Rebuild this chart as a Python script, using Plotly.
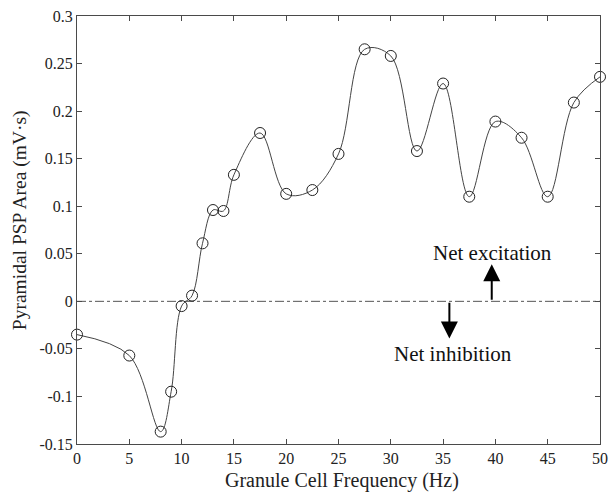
import plotly.graph_objects as go

freq_hz = [0, 5, 8, 9, 10, 11, 12, 13, 14, 15, 17.5, 20, 22.5, 25, 27.5, 30,
           32.5, 35, 37.5, 40, 42.5, 45, 47.5, 50]
psp_area = [-0.035, -0.057, -0.137, -0.095, -0.005, 0.006, 0.061, 0.096, 0.095,
            0.133, 0.177, 0.113, 0.117, 0.155, 0.265, 0.258, 0.158, 0.229,
            0.110, 0.189, 0.172, 0.110, 0.209, 0.236]

x_ticks = [0, 5, 10, 15, 20, 25, 30, 35, 40, 45, 50]
y_ticks = [-0.15, -0.1, -0.05, 0, 0.05, 0.1, 0.15, 0.2, 0.25, 0.3]
y_tick_text = ["-0.15", "-0.1", "-0.05", "0", "0.05", "0.1", "0.15", "0.2", "0.25", "0.3"]

FONT = "Liberation Serif, Times New Roman, serif"
AX = "#4a4a4a"

fig = go.Figure()
fig.add_trace(go.Scatter(
    x=freq_hz, y=psp_area, mode="lines+markers",
    line=dict(shape="spline", smoothing=1.0, color="#444444", width=1),
    marker=dict(symbol="circle-open", size=11, color="#222222", line=dict(width=1)),
    showlegend=False, cliponaxis=False,
))

fig.add_shape(type="line", xref="x", yref="y", x0=0, x1=50, y0=0, y1=0,
              line=dict(color="#555555", width=1, dash="dashdot"), layer="below")

# arrows
fig.add_annotation(x=39.65, y=0.039, ax=39.65, ay=0.0, xref="x", yref="y",
                   axref="x", ayref="y", text="", showarrow=True,
                   arrowhead=2, arrowsize=1.7, arrowwidth=2, arrowcolor="#000000")
fig.add_annotation(x=35.6, y=-0.039, ax=35.6, ay=0.0, xref="x", yref="y",
                   axref="x", ayref="y", text="", showarrow=True,
                   arrowhead=2, arrowsize=1.7, arrowwidth=2, arrowcolor="#000000")
fig.add_annotation(x=39.7, y=0.051, xref="x", yref="y", text="Net excitation",
                   showarrow=False, font=dict(family=FONT, size=21, color="#111111"))
fig.add_annotation(x=35.9, y=-0.055, xref="x", yref="y", text="Net inhibition",
                   showarrow=False, font=dict(family=FONT, size=21, color="#111111"))

# axis titles
fig.add_annotation(x=0.507, y=-0.086, xref="paper", yref="paper",
                   text="Granule Cell Frequency (Hz)", showarrow=False,
                   xanchor="center", yanchor="middle",
                   font=dict(family=FONT, size=20, color="#222222"))
fig.add_annotation(x=-0.109, y=0.523, xref="paper", yref="paper",
                   text="Pyramidal PSP Area (mV·s)", showarrow=False, textangle=-90,
                   xanchor="center", yanchor="middle",
                   font=dict(family=FONT, size=19.5, color="#222222"))

fig.update_layout(
    width=609, height=493,
    margin=dict(l=77, r=9, t=16, b=49),
    paper_bgcolor="white", plot_bgcolor="white",
    font=dict(family=FONT, size=14, color="#222222"),
)
fig.update_xaxes(
    range=[0, 50], tickvals=x_ticks, ticks="inside", ticklen=5, tickcolor=AX,
    showline=True, linecolor=AX, linewidth=1, mirror="ticks", showgrid=False,
    zeroline=False, tickfont=dict(family=FONT, size=16), automargin=False,
    ticklabeloverflow="allow",
)
fig.update_yaxes(
    range=[-0.15, 0.3], tickvals=y_ticks, ticktext=y_tick_text, ticks="inside",
    ticklen=5, tickcolor=AX, showline=True, linecolor=AX, linewidth=1,
    mirror="ticks", showgrid=False, zeroline=False,
    tickfont=dict(family=FONT, size=16), automargin=False,
    ticklabeloverflow="allow",
)

fig.write_html("out.html", config={"displayModeBar": False},
               post_script="document.body.style.margin='0';")
